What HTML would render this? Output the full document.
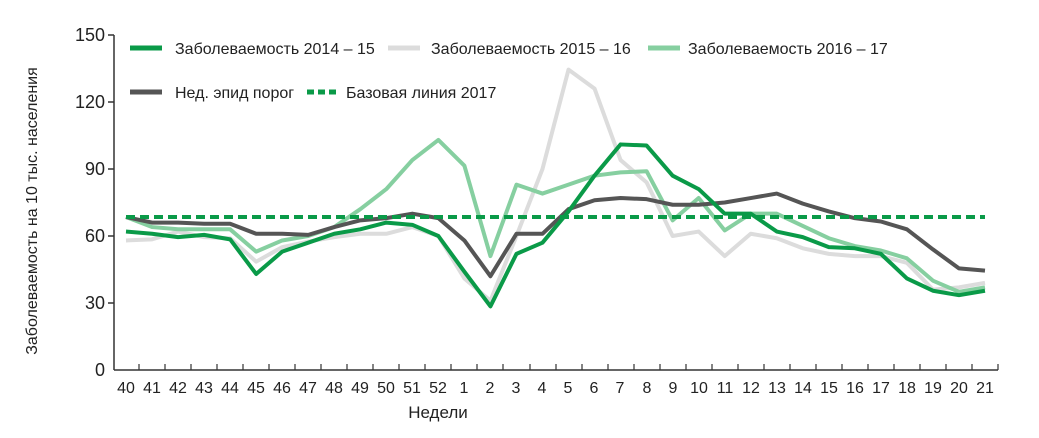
<!DOCTYPE html>
<html><head><meta charset="utf-8"><style>body{margin:0;background:#fff}svg{display:block}text{font-family:"Liberation Sans",sans-serif;fill:#222}</style></head><body>
<svg width="1039" height="438" xmlns="http://www.w3.org/2000/svg">
<g stroke="#333" stroke-width="1.5">
<line x1="114" y1="35" x2="114" y2="370"/><line x1="114" y1="370" x2="998" y2="370"/>
<line x1="108" y1="35" x2="114" y2="35"/><line x1="108" y1="102" x2="114" y2="102"/><line x1="108" y1="169" x2="114" y2="169"/><line x1="108" y1="236" x2="114" y2="236"/><line x1="108" y1="303" x2="114" y2="303"/>
</g>
<path stroke="#333" stroke-width="1.2" d="M139 364V370M165 364V370M191 364V370M217 364V370M243 364V370M269 364V370M295 364V370M321 364V370M347 364V370M373 364V370M399 364V370M425 364V370M451 364V370M477 364V370M503 364V370M530 364V370M556 364V370M582 364V370M608 364V370M634 364V370M660 364V370M686 364V370M712 364V370M738 364V370M764 364V370M790 364V370M816 364V370M842 364V370M868 364V370M894 364V370M920 364V370M946 364V370M972 364V370M998 364V370"/>
<g font-size="18" text-anchor="end"><text x="105" y="41">150</text><text x="105" y="108">120</text><text x="105" y="175">90</text><text x="105" y="242">60</text><text x="105" y="309">30</text><text x="105" y="376">0</text></g>
<g font-size="16" text-anchor="middle">
<text x="126" y="393">40</text><text x="152" y="393">41</text><text x="178" y="393">42</text><text x="204" y="393">43</text><text x="230" y="393">44</text><text x="256" y="393">45</text><text x="282" y="393">46</text><text x="308" y="393">47</text><text x="334" y="393">48</text><text x="360" y="393">49</text><text x="386" y="393">50</text><text x="412" y="393">51</text><text x="438" y="393">52</text><text x="464" y="393">1</text><text x="490" y="393">2</text><text x="516" y="393">3</text><text x="542" y="393">4</text><text x="568" y="393">5</text><text x="594" y="393">6</text><text x="620" y="393">7</text><text x="647" y="393">8</text><text x="673" y="393">9</text><text x="699" y="393">10</text><text x="725" y="393">11</text><text x="751" y="393">12</text><text x="777" y="393">13</text><text x="803" y="393">14</text><text x="829" y="393">15</text><text x="855" y="393">16</text><text x="881" y="393">17</text><text x="907" y="393">18</text><text x="933" y="393">19</text><text x="959" y="393">20</text><text x="985" y="393">21</text>
</g>
<text x="438" y="418" font-size="17" text-anchor="middle">Недели</text>
<text transform="translate(37,211) rotate(-90)" font-size="16" text-anchor="middle">Заболеваемость на 10 тыс. населения</text>
<g fill="none" stroke-width="4" stroke-linejoin="round" transform="translate(126,370) scale(26.03,-2.2333)">
<polyline vector-effect="non-scaling-stroke" stroke="#dcdcdc" points="0,58 1,58.5 2,62 3,59.5 4,59 5,48.5 6,55 7,57.5 8,59.5 9,61 10,61 11,64 12,60 13,41 14,31 15,60 16,90 17,134.5 18,126 19,94 20,84 21,60 22,62 23,51 24,61 25,59 26,54.5 27,52 28,51 29,51 30,48 31,36 32,37 33,39"/>
<polyline vector-effect="non-scaling-stroke" stroke="#86cfa0" points="0,68.5 1,64 2,63 3,63 4,63 5,53 6,58 7,60 8,64 9,72 10,81 11,94 12,103 13,91.5 14,51 15,83 16,79 17,83 18,87 19,88.5 20,89 21,67 22,77 23,62.5 24,70 25,70 26,64.5 27,59 28,55.5 29,53.5 30,50 31,40 32,35 33,37"/>
<polyline vector-effect="non-scaling-stroke" stroke="#555555" points="0,68.5 1,66 2,66 3,65.5 4,65.5 5,61 6,61 7,60.5 8,64 9,67 10,68 11,70 12,68 13,58 14,42 15,61 16,61 17,72 18,76 19,77 20,76.5 21,74 22,74 23,75 24,77 25,79 26,74.5 27,71 28,68 29,66.5 30,63 31,54 32,45.5 33,44.5"/>
<polyline vector-effect="non-scaling-stroke" stroke="#0a9a48" points="0,62 1,61 2,59.5 3,60.5 4,58.5 5,43 6,53 7,57 8,61 9,63 10,66 11,65 12,60 13,44 14,28.5 15,52 16,57 17,71 18,87 19,101 20,100.5 21,87 22,81 23,70 24,70 25,62 26,59.5 27,55 28,54.5 29,52 30,41 31,35.5 32,33.5 33,35.5"/>
</g>
<line x1="126" y1="217" x2="985" y2="217" stroke="#0a9a48" stroke-width="4" stroke-dasharray="9,5"/>
<g stroke-width="5">
<line x1="130" y1="48" x2="162" y2="48" stroke="#0a9a48"/>
<line x1="388" y1="48" x2="420" y2="48" stroke="#dcdcdc"/>
<line x1="648" y1="48" x2="680" y2="48" stroke="#86cfa0"/>
<line x1="130" y1="92" x2="162" y2="92" stroke="#555"/>
<line x1="307" y1="92" x2="340" y2="92" stroke="#0a9a48" stroke-dasharray="7,4"/>
</g>
<g font-size="16">
<text x="175" y="54">Заболеваемость 2014 – 15</text>
<text x="431" y="54">Заболеваемость 2015 – 16</text>
<text x="688" y="54">Заболеваемость 2016 – 17</text>
<text x="175" y="98">Нед. эпид порог</text>
<text x="346" y="98">Базовая линия 2017</text>
</g>
</svg>
</body></html>
